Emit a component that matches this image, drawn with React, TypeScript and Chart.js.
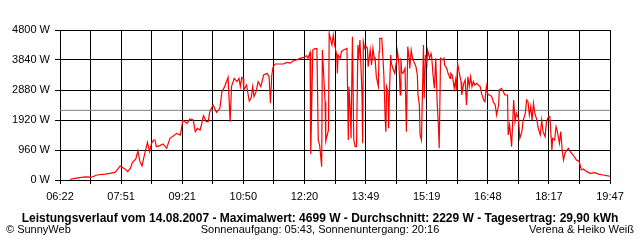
import React, { useEffect, useRef } from "react";
import { Chart, registerables } from "chart.js";

Chart.register(...registerables);

// ---- data ----
const times: string[] = [
  "06:37","06:44","06:51","06:59","07:08","07:16","07:28","07:35","07:43","07:50",
  "07:57","08:01","08:05","08:08","08:13","08:16","08:19","08:22","08:25","08:30",
  "08:33","08:36","08:39","08:41","08:43","08:48","08:53","08:58","09:03","09:13",
  "09:18","09:22","09:28","09:32","09:37","09:40","09:43","09:47","09:49","09:52",
  "09:56","09:59","10:01","10:06","10:11","10:16","10:19","10:23","10:28","10:31",
  "10:33","10:37","10:41","10:44","10:46","10:48","10:50","10:51","10:55","10:59",
  "11:02","11:04","11:06","11:09","11:12","11:16","11:20","11:25","11:28","11:30",
  "11:32","11:34","11:37","11:49","11:54","11:59","12:03","12:08","12:13","12:19",
  "12:23","12:25","12:28","12:29","12:32","12:35","12:38","12:39","12:40","12:42",
  "12:45","12:46","12:50","12:51","12:55","12:56","13:00","13:02","13:04","13:07",
  "13:08","13:09","13:12","13:14","13:17","13:22","13:24","13:25","13:27","13:28",
  "13:30","13:32","13:34","13:36","13:38","13:39","13:41","13:44","13:45","13:46",
  "13:48","13:50","13:52","13:53","13:56","13:58","14:00","14:01","14:02","14:03",
  "14:05","14:08","14:09","14:10","14:13","14:14","14:16","14:18","14:19","14:20",
  "14:22","14:23","14:24","14:26","14:27","14:30","14:32","14:35","14:36","14:38",
  "14:40","14:41","14:42","14:44","14:47","14:49","14:51","14:53","14:54","14:56",
  "14:58","15:00","15:03","15:05","15:06","15:08","15:09","15:11","15:14","15:15",
  "15:17","15:19","15:20","15:23","15:25","15:26","15:28","15:30","15:32","15:34",
  "15:36","15:37","15:39","15:42","15:44","15:45","15:48","15:50","15:53","15:54",
  "15:56","15:58","15:59","16:01","16:02","16:04","16:06","16:09","16:10","16:13",
  "16:15","16:17","16:19","16:21","16:23","16:25","16:27","16:29","16:32","16:34",
  "16:37","16:39","16:42","16:44","16:46","16:47","16:49","16:51","16:54","16:56",
  "16:59","17:01","17:04","17:05","17:08","17:11","17:13","17:17","17:18","17:20",
  "17:22","17:23","17:26","17:28","17:30","17:33","17:35","17:38","17:40","17:43",
  "17:45","17:47","17:49","17:51","17:53","17:55","17:57","18:00","18:02","18:05",
  "18:07","18:09","18:12","18:14","18:17","18:19","18:22","18:23","18:26","18:28",
  "18:30","18:33","18:35","18:37","18:39","18:41","18:44","18:46","18:49","18:53",
  "18:58","19:02","19:05","19:08","19:13","19:18","19:25","19:30","19:37","19:42",
  "19:47",
];

const watts: number[] = [
  20, 53, 75, 100, 90, 160, 190, 213, 250, 448,
  352, 267, 370, 565, 672, 928, 587, 448, 747, 1205,
  907, 1173, 1280, 1280, 1067, 1100, 1152, 1013, 1333, 1493,
  1440, 1920, 1813, 1952, 1920, 1547, 1653, 1600, 1760, 2059,
  1867, 1867, 2165, 2400, 2165, 2293, 2827, 2987, 3285, 1867,
  2987, 3253, 3150, 3253, 2987, 3285, 3250, 2880, 3040, 2528,
  2635, 2987, 2670, 2827, 3147, 2987, 3360, 3413, 3307, 2453,
  3360, 3627, 3712, 3712, 3765, 3740, 3808, 3840, 3893, 3925,
  3977, 3893, 4085, 821, 4160, 4203, 4203, 2773, 1280, 1120,
  427, 4160, 2507, 1248, 1600, 4693, 4320, 4640, 4320, 4000,
  3413, 4000, 3893, 4107, 4160, 4213, 1280, 2987, 2133, 1333,
  4587, 1280, 1067, 1067, 4320, 3840, 4480, 2773, 1173, 4427,
  4213, 4267, 4213, 3627, 4160, 3680, 4213, 4050, 3840, 3945,
  3307, 2987, 4107, 4533, 4533, 4160, 3360, 1920, 1547, 2987,
  2827, 1653, 2670, 4000, 3733, 3520, 3413, 3893, 4107, 3733,
  2720, 3893, 3467, 3413, 3573, 1547, 4267, 3893, 3573, 4160,
  3893, 3787, 3627, 3360, 2720, 2400, 1440, 1280, 4320, 2613,
  4000, 3733, 4160, 3893, 4050, 3945, 3360, 2933, 3893, 2507,
  1653, 1013, 3893, 3840, 3893, 3680, 3573, 3413, 3253, 3413,
  3360, 3093, 2933, 3200, 2880, 3733, 3467, 3147, 2720, 3093,
  3200, 2400, 3307, 2987, 3307, 2987, 3147, 3040, 3093, 3040,
  2987, 2773, 2560, 2507, 2987, 2827, 2720, 2720, 2670, 2507,
  2400, 2080, 2400, 2880, 2933, 2827, 2720, 2720, 1440, 1760,
  1333, 1067, 2560, 1867, 2133, 1973, 1333, 1547, 1920, 2133,
  2560, 2507, 2080, 2347, 1920, 2453, 2133, 1920, 1653, 1440,
  1920, 1547, 1387, 1867, 2027, 2027, 960, 1333, 1280, 1707,
  1547, 1173, 1547, 960, 640, 853, 960, 1013, 907, 800,
  640, 587, 320, 350, 267, 213, 235, 190, 160, 140,
  120,
];

const averageW = 2229;
const yTicks: number[] = [0, 960, 1920, 2880, 3840, 4800];
const xTickLabels: string[] = [
  "06:22", "07:51", "09:21", "10:50", "12:20",
  "13:49", "15:19", "16:48", "18:17", "19:47",
];
const xStart = "06:22";
const xEnd = "19:47";
const titleText =
  "Leistungsverlauf vom 14.08.2007 - Maximalwert: 4699 W - Durchschnitt: 2229 W - Tagesertrag: 29,90 kWh";
const footerLeft = "© SunnyWeb";
const footerCenter = "Sonnenaufgang: 05:43, Sonnenuntergang: 20:16";
const footerRight = "Verena & Heiko Weiß";

// ---- helpers ----
const toMin = (t: string) => {
  const [h, m] = t.split(":").map(Number);
  return h * 60 + m;
};

const FONT = '"Liberation Sans", Arial, sans-serif';

export default function App() {
  const ref = useRef<HTMLCanvasElement | null>(null);

  useEffect(() => {
    document.body.style.margin = "0";
    const canvas = ref.current;
    if (!canvas) return;
    const xMin = toMin(xStart);
    const xMax = toMin(xEnd);
    const gridCount = (xTickLabels.length - 1) * 2;

    const textPlugin = {
      id: "footerTexts",
      afterDraw(chart: any) {
        const ctx = chart.ctx as CanvasRenderingContext2D;
        ctx.save();
        ctx.fillStyle = "#000";
        ctx.textBaseline = "alphabetic";
        ctx.font = `bold 12px ${FONT}`;
        ctx.textAlign = "center";
        ctx.fillText(titleText, 320, 222, 606);
        ctx.font = `11px ${FONT}`;
        ctx.textAlign = "left";
        ctx.fillText(footerLeft, 6, 233);
        ctx.textAlign = "center";
        ctx.fillText(footerCenter, 320, 233);
        ctx.textAlign = "right";
        ctx.fillText(footerRight, 634, 233);
        ctx.restore();
      },
    };

    const chart = new Chart(canvas, {
      type: "line",
      data: {
        datasets: [
          {
            data: times.map((t, i) => ({ x: toMin(t), y: watts[i] })),
            borderColor: "#ff0000",
            borderWidth: 1.2,
            pointRadius: 0,
            tension: 0,
            fill: false,
          },
          {
            data: [
              { x: xMin, y: averageW },
              { x: xMax, y: averageW },
            ],
            borderColor: "#808080",
            borderWidth: 1,
            pointRadius: 0,
            tension: 0,
            fill: false,
          },
        ],
      },
      options: {
        animation: false,
        responsive: false,
        events: [],
        layout: { padding: { top: 30, right: 30, left: 0, bottom: 0 } },
        plugins: {
          legend: { display: false },
          tooltip: { enabled: false },
          title: { display: false },
        },
        scales: {
          x: {
            type: "linear",
            min: xMin,
            max: xMax,
            afterBuildTicks: (s: any) => {
              s.ticks = Array.from({ length: gridCount + 1 }, (_, i) => ({
                value: xMin + (i * (xMax - xMin)) / gridCount,
              }));
            },
            afterFit: (s: any) => {
              s.height = 60;
            },
            ticks: {
              autoSkip: false,
              maxRotation: 0,
              minRotation: 0,
              padding: 6,
              color: "#000",
              font: { family: FONT, size: 11 },
              callback: (_v: any, i: number) =>
                i % 2 === 0 ? xTickLabels[i / 2] : "",
            },
            grid: { color: "#000", lineWidth: 1, tickLength: 4, drawTicks: true },
            border: { color: "#000", width: 1 },
          },
          y: {
            type: "linear",
            min: 0,
            max: 4800,
            afterBuildTicks: (s: any) => {
              s.ticks = yTicks.map((v) => ({ value: v }));
            },
            afterFit: (s: any) => {
              s.width = 60;
            },
            ticks: {
              padding: 5,
              color: "#000",
              font: { family: FONT, size: 11 },
              callback: (v: any) => `${v} W`,
            },
            grid: { color: "#000", lineWidth: 1, tickLength: 5, drawTicks: true },
            border: { color: "#000", width: 1 },
          },
        },
      },
      plugins: [textPlugin],
    });
    return () => chart.destroy();
  }, []);

  return (
    <canvas
      ref={ref}
      width={640}
      height={240}
      style={{ display: "block", width: 640, height: 240 }}
    />
  );
}
